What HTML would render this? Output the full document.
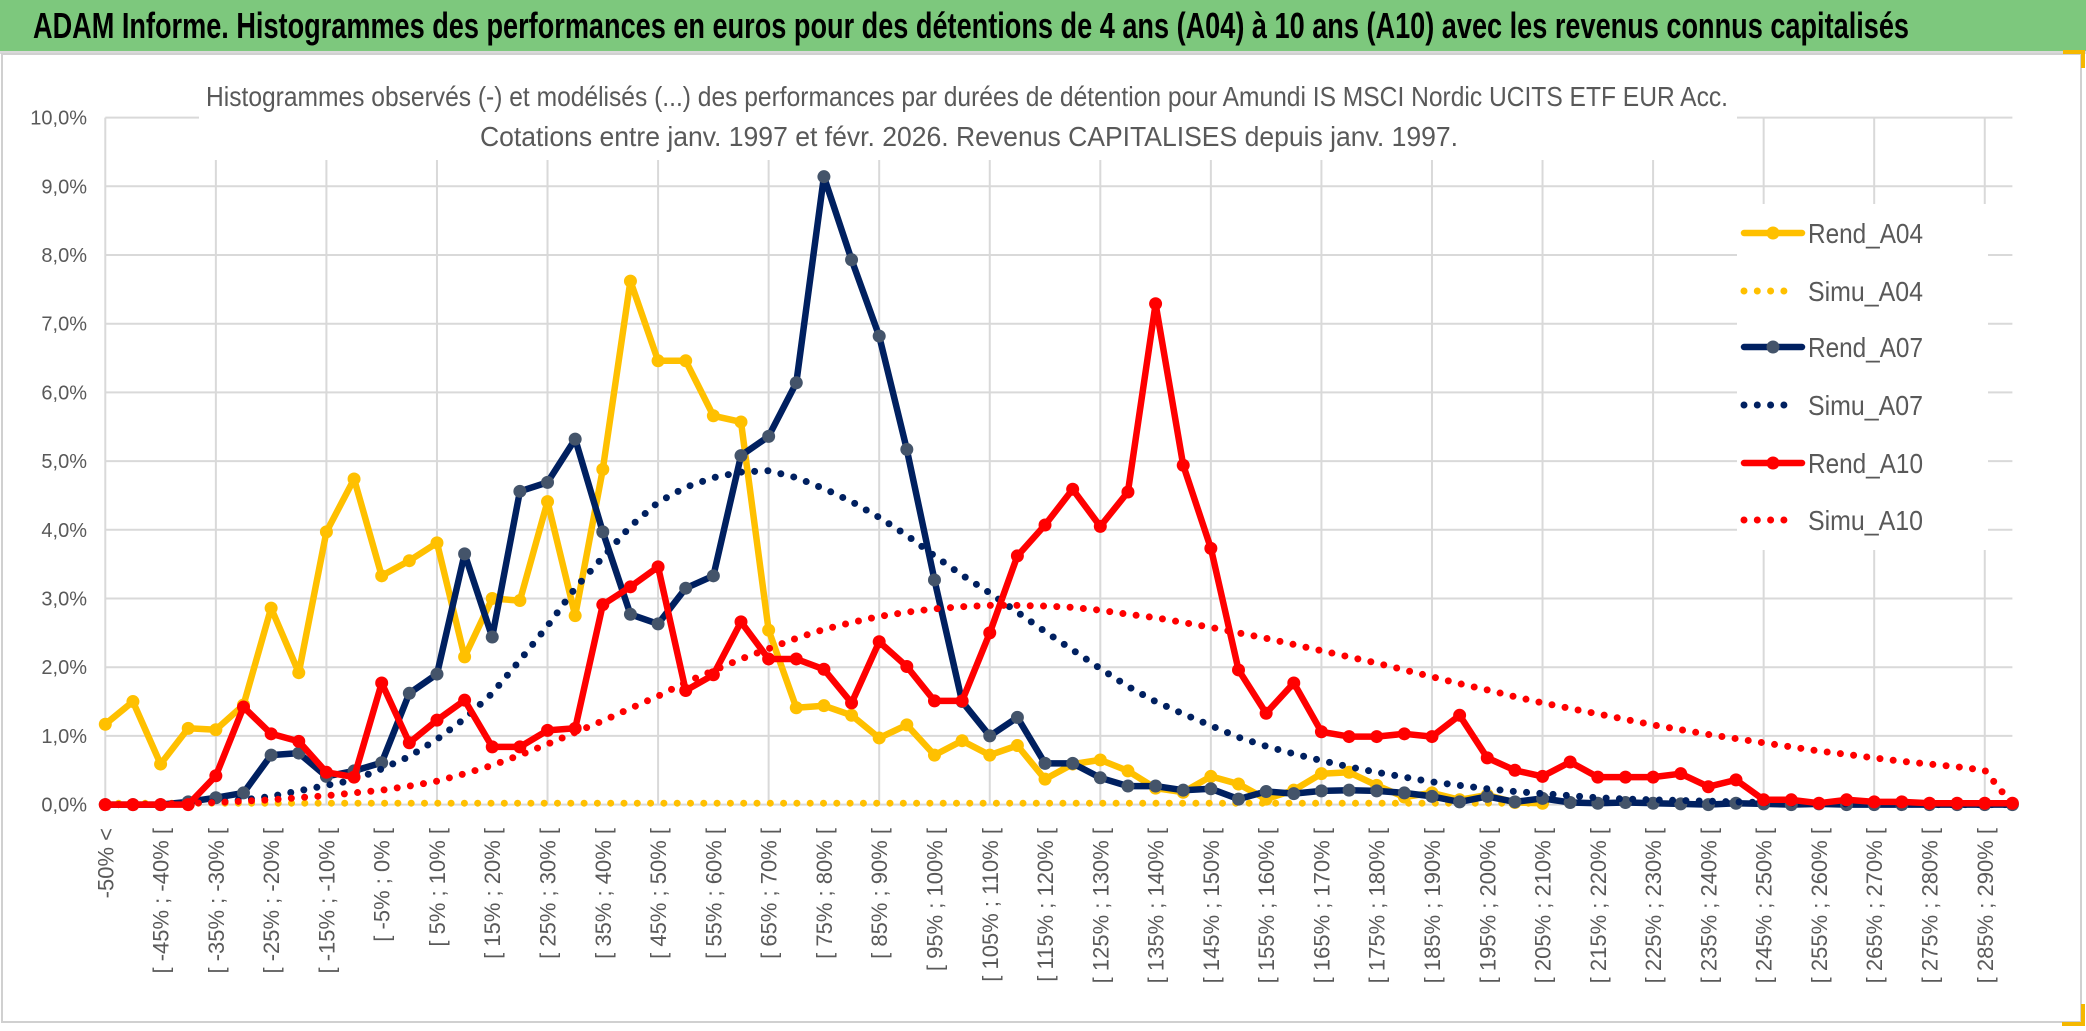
<!DOCTYPE html>
<html><head><meta charset="utf-8"><title>ADAM Informe histogrammes</title>
<style>
html,body{margin:0;padding:0;background:#fff;}
svg{display:block;}
text{font-family:"Liberation Sans Narrow","Liberation Sans",sans-serif;}
</style></head>
<body>
<svg id="chart" width="2086" height="1031" viewBox="0 0 2086 1031" xmlns="http://www.w3.org/2000/svg">
  <rect x="0" y="0" width="2086" height="1031" fill="#ffffff"/>
  <rect x="0" y="0" width="2086" height="51" fill="#7dc87d"/>
  <rect x="0" y="51" width="2086" height="3" fill="#d9d9d9"/>
  <text x="33" y="38" font-size="36" font-weight="bold" fill="#000" textLength="1876" lengthAdjust="spacingAndGlyphs">ADAM Informe. Histogrammes des performances en euros pour des détentions de 4 ans (A04) à 10 ans (A10) avec les revenus connus capitalisés</text>
  <rect x="2" y="54" width="2079" height="968" fill="none" stroke="#d0d0d0" stroke-width="2"/>
  <path d="M2063 52 H2083 V68" fill="none" stroke="#f5b800" stroke-width="4"/>
  <path d="M2062 1024 H2083 V1004" fill="none" stroke="#f5b800" stroke-width="4"/>
  <g id="grid"></g>
  <rect x="199" y="56" width="1538" height="104" fill="#fff"/>
  <text x="206" y="106" font-size="28" fill="#595959" textLength="1522" lengthAdjust="spacingAndGlyphs">Histogrammes observés (-) et modélisés (...) des performances par durées de détention pour Amundi IS MSCI Nordic UCITS ETF EUR Acc.</text>
  <text x="480" y="146" font-size="28" fill="#595959" textLength="978" lengthAdjust="spacingAndGlyphs">Cotations entre janv. 1997 et févr. 2026. Revenus CAPITALISES depuis janv. 1997.</text>
  <g id="yaxis"></g>
  <g id="xaxis"></g>
  <g id="series"></g>
  <g id="legend"></g>
</svg>
<script>
const categories = ["-50% <"];
const lowBounds = [-50,-45,-40,-35,-30,-25,-20,-15,-10,-5,0,5,10,15,20,25,30,35,40,45,50,55,60,65,70,75,80,85,90,95,100,105,110,115,120,125,130,135,140,145,150,155,160,165,170,175,180,185,190,195,200,205,210,215,220,225,230,235,240,245,250,255,260,265,270,275,280,285,290];
const yTicks = [0,1,2,3,4,5,6,7,8,9,10];
const yTickLabels = ["0,0%","1,0%","2,0%","3,0%","4,0%","5,0%","6,0%","7,0%","8,0%","9,0%","10,0%"];
const rendA04 = [1.17,1.50,0.59,1.11,1.09,1.45,2.86,1.92,3.97,4.74,3.33,3.55,3.81,2.15,3.00,2.97,4.41,2.75,4.88,7.62,6.46,6.46,5.66,5.57,2.54,1.41,1.44,1.30,0.97,1.16,0.72,0.93,0.72,0.86,0.37,0.59,0.65,0.49,0.24,0.18,0.41,0.30,0.08,0.21,0.45,0.47,0.28,0.11,0.17,0.07,0.14,0.03,0.02];
const simuA04 = [0.02,0.02,0.02,0.02,0.02,0.02,0.02,0.02,0.02,0.02,0.02,0.02,0.02,0.02,0.02,0.02,0.02,0.02,0.02,0.02,0.02,0.02,0.02,0.02,0.02,0.02,0.02,0.02,0.02,0.02,0.02,0.02,0.02,0.02,0.02,0.02,0.02,0.02,0.02,0.02,0.02,0.02,0.02,0.02,0.02,0.02,0.02,0.02,0.02,0.02,0.02,0.02,0.02];
const rendA07 = [0,0,0,0.04,0.10,0.17,0.72,0.75,0.41,0.49,0.61,1.62,1.90,3.65,2.44,4.56,4.69,5.32,3.97,2.77,2.63,3.15,3.33,5.08,5.36,6.14,9.14,7.93,6.82,5.17,3.27,1.50,1.00,1.27,0.60,0.60,0.39,0.27,0.27,0.21,0.23,0.08,0.19,0.16,0.20,0.21,0.20,0.17,0.12,0.04,0.12,0.04,0.09,0.03,0.02,0.03,0.02,0.01,0.00,0.02,0.01,0.00,0.01,0.00,0.00,0.00,0.00,0.00,0.00,0.00];
const simuA07 = [0,0,0.01,0.02,0.04,0.07,0.12,0.2,0.28,0.36,0.52,0.7,0.95,1.25,1.62,2.1,2.6,3.15,3.6,4.05,4.4,4.62,4.76,4.84,4.86,4.76,4.6,4.41,4.18,3.92,3.62,3.34,3.08,2.8,2.52,2.25,1.98,1.72,1.5,1.32,1.15,0.98,0.85,0.74,0.64,0.55,0.47,0.4,0.33,0.28,0.23,0.19,0.16,0.13,0.1,0.08,0.07,0.06,0.05,0.04,0.03,0.02,0.02,0.01,0.01,0.01,0,0,0,0];
const rendA10 = [0,0,0,0,0.42,1.42,1.03,0.92,0.47,0.40,1.77,0.90,1.23,1.52,0.84,0.84,1.08,1.11,2.91,3.17,3.46,1.66,1.89,2.66,2.12,2.12,1.97,1.48,2.37,2.01,1.51,1.51,2.50,3.62,4.07,4.59,4.05,4.55,7.29,4.94,3.73,1.96,1.33,1.77,1.06,0.99,0.99,1.03,0.99,1.30,0.68,0.50,0.41,0.62,0.40,0.40,0.40,0.45,0.26,0.36,0.07,0.07,0.02,0.07,0.04,0.04,0.02,0.02,0.02,0.02];
const simuA10 = [0,0,0.01,0.02,0.03,0.05,0.07,0.1,0.13,0.17,0.21,0.27,0.34,0.45,0.57,0.72,0.88,1.05,1.22,1.4,1.58,1.78,1.95,2.12,2.27,2.42,2.55,2.65,2.74,2.8,2.85,2.88,2.9,2.9,2.89,2.87,2.83,2.77,2.72,2.65,2.58,2.5,2.42,2.33,2.24,2.15,2.06,1.96,1.86,1.76,1.67,1.57,1.48,1.4,1.32,1.24,1.16,1.09,1.02,0.96,0.9,0.84,0.78,0.73,0.68,0.63,0.59,0.55,0.5,0];

for (let k = 1; k < lowBounds.length; k++) {
  categories.push("[ " + lowBounds[k-1] + "% ; " + lowBounds[k] + "% [");
}
categories.push("> 290%");

const NS = "http://www.w3.org/2000/svg";
const X0 = 105.3, X1 = 2012.4, Y0 = 804.6, Y10 = 117.6;
const N = categories.length;
function xScale(i) { return X0 + (X1 - X0) * i / (N - 1); }
function yScale(v) { return Y0 + (Y10 - Y0) * v / 10; }
function mk(tag, attrs, parent) {
  const e = document.createElementNS(NS, tag);
  for (const k in attrs) e.setAttribute(k, attrs[k]);
  parent.appendChild(e);
  return e;
}

const grid = document.getElementById('grid');
yTicks.forEach(function(t) {
  const l = mk('line', {x1: X0, x2: X1, y1: yScale(t), y2: yScale(t), stroke: '#d9d9d9', 'stroke-width': 2}, grid);
  
  
});
for (let i = 0; i < N; i += 4) {
  const l = mk('line', {x1: xScale(i), x2: xScale(i), y1: yScale(10), y2: Y0, stroke: '#d9d9d9', 'stroke-width': 2}, grid);
  
  
}

const yaxis = document.getElementById('yaxis');
yTicks.forEach(function(t, k) {
  const tx = mk('text', {x: 87, y: yScale(t) + 7, 'font-size': 20, fill: '#595959', 'text-anchor': 'end'}, yaxis);
  tx.textContent = yTickLabels[k];
  
  
});

const xaxis = document.getElementById('xaxis');
for (let i = 0; i < N; i += 2) {
  const x = xScale(i) + 8;
  const tx = mk('text', {x: 0, y: 0, 'font-size': 22, fill: '#595959', 'text-anchor': 'end', transform: 'translate(' + x + ',828) rotate(-90)', style: 'font-family:"Liberation Sans",sans-serif'}, xaxis);
  tx.textContent = categories[i];
  
  
}

const sg = document.getElementById('series');
function pathFor(vals) {
  let d = '';
  vals.forEach(function(v, i) { d += (i ? ' L' : 'M') + xScale(i).toFixed(1) + ' ' + yScale(v).toFixed(1); });
  return d;
}
function drawRend(vals, color, marker, name) {
  const g = mk('g', {}, sg);
  
  
  const p = mk('path', {d: pathFor(vals), fill: 'none', stroke: color, 'stroke-width': 6.5, 'stroke-linejoin': 'round'}, g);
  
  
  vals.forEach(function(v, i) {
    const c = mk('circle', {cx: xScale(i), cy: yScale(v), r: 6.5, fill: marker}, g);
    
    
  });
}
function drawSimu(vals, color, name) {
  const p = mk('path', {d: pathFor(vals), fill: 'none', stroke: color, 'stroke-width': 7, 'stroke-linecap': 'round', 'stroke-dasharray': '0 13.3'}, sg);
  
  
}
drawRend(rendA04, '#ffc000', '#ffc000', 'rend-a04-series');
drawSimu(simuA04, '#ffc000', 'simu-a04-series');
drawRend(rendA07, '#002060', '#44546a', 'rend-a07-series');
drawSimu(simuA07, '#002060', 'simu-a07-series');
drawRend(rendA10, '#ff0000', '#ff0000', 'rend-a10-series');
drawSimu(simuA10, '#ff0000', 'simu-a10-series');

const lg = document.getElementById('legend');
const lbg = mk('rect', {x: 1737, y: 204, width: 251, height: 346, fill: '#fff'}, lg);


const legendNames = ['Rend_A04','Simu_A04','Rend_A07','Simu_A07','Rend_A10','Simu_A10'];
const legendColors = ['#ffc000','#ffc000','#002060','#002060','#ff0000','#ff0000'];
const legendMarkers = ['#ffc000','','#44546a','','#ff0000',''];
const legendY = [233,291,347,405,463,520];
legendNames.forEach(function(nm, k) {
  const y = legendY[k];
  const g = mk('g', {}, lg);
  
  
  if (nm.indexOf('Rend') === 0) {
    const l = mk('line', {x1: 1744, x2: 1802, y1: y, y2: y, stroke: legendColors[k], 'stroke-width': 6.5, 'stroke-linecap': 'round'}, g);
    
    
    const c = mk('circle', {cx: 1773, cy: y, r: 6.5, fill: legendMarkers[k]}, g);
    
    
  } else {
    const l = mk('line', {x1: 1744, x2: 1796, y1: y, y2: y, stroke: legendColors[k], 'stroke-width': 7, 'stroke-linecap': 'round', 'stroke-dasharray': '0 13.3'}, g);
    
    
  }
  const t = mk('text', {x: 1808, y: y + 10, 'font-size': 28, fill: '#595959', textLength: 115, lengthAdjust: 'spacingAndGlyphs'}, g);
  t.textContent = nm;
  
  
});
</script>
</body></html>
